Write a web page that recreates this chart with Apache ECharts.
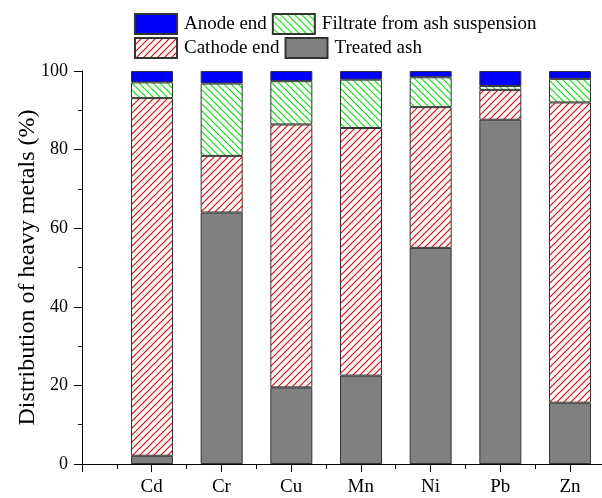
<!DOCTYPE html>
<html>
<head>
<meta charset="utf-8">
<script src="https://cdn.jsdelivr.net/npm/echarts@6/dist/echarts.min.js"></script>
<style>html,body{margin:0;padding:0;background:#fff;}#c{width:602px;height:498px;}</style>
</head>
<body>
<div id="c"></div>
<script>
const categories = ['Cd', 'Cr', 'Cu', 'Mn', 'Ni', 'Pb', 'Zn'];
const treatedAsh = [2.1, 64.0, 19.5, 22.5, 55.0, 87.6, 15.6];
const cathodeEnd = [91.0, 14.4, 66.9, 63.0, 35.8, 7.6, 76.4];
const filtrate   = [4.0, 18.4, 11.0, 12.3, 7.6, 1.0, 6.0];
const anodeEnd   = [2.9, 3.2, 2.6, 2.2, 1.6, 3.8, 2.0];
const yTicks = [0, 20, 40, 60, 80, 100];

function hatch(color, dir) {
  const s = 7;
  const c = document.createElement('canvas');
  c.width = s; c.height = s;
  const g = c.getContext('2d');
  g.fillStyle = '#ffffff';
  g.fillRect(0, 0, s, s);
  g.strokeStyle = color;
  g.lineWidth = 1.2;
  g.beginPath();
  if (dir === '/') {
    g.moveTo(-1, s + 1); g.lineTo(s + 1, -1);
    g.moveTo(-1, 1); g.lineTo(1, -1);
    g.moveTo(s - 1, s + 1); g.lineTo(s + 1, s - 1);
  } else {
    g.moveTo(-1, -1); g.lineTo(s + 1, s + 1);
    g.moveTo(s - 1, -1); g.lineTo(s + 1, 1);
    g.moveTo(-1, s - 1); g.lineTo(1, s + 1);
  }
  g.stroke();
  return c;
}

const font = 'Liberation Serif';
const border = { borderColor: '#333', borderWidth: 1 };
const legendText = { fontFamily: font, fontSize: 19, color: '#000', padding: [0, 0, 0, 2] };

const chart = echarts.init(document.getElementById('c'), null, { renderer: 'canvas' });
chart.setOption({
  animation: false,
  backgroundColor: '#fff',
  textStyle: { fontFamily: font },
  legend: [
    { data: ['Anode end', 'Filtrate from ash suspension'], left: 134, top: 13, padding: 0, icon: 'rect',
      itemWidth: 42, itemHeight: 20, itemGap: 5, textStyle: legendText, selectedMode: false },
    { data: ['Cathode end', 'Treated ash'], left: 134, top: 37, padding: 0, icon: 'rect',
      itemWidth: 42, itemHeight: 20, itemGap: 5, textStyle: legendText, selectedMode: false }
  ],
  grid: [
    { left: 152, right: 32, top: 71, bottom: 34, containLabel: false },
    { left: 82, right: 0, top: 71, bottom: 34, containLabel: false }
  ],
  xAxis: [
    { gridIndex: 0, type: 'category', data: categories, boundaryGap: false, show: false },
    { gridIndex: 1, type: 'value', min: 0, max: 7.46, interval: 1,
      axisLine: { show: true, lineStyle: { color: '#000', width: 1 } },
      axisTick: { show: true, length: 8, inside: false, lineStyle: { color: '#000' } },
      minorTick: { show: true, splitNumber: 2, length: 5, lineStyle: { color: '#000' } },
      splitLine: { show: false },
      axisLabel: { color: '#000', fontSize: 19, fontFamily: font, margin: 14, showMaxLabel: false,
        formatter: v => (v >= 1 && v <= categories.length && Number.isInteger(v)) ? categories[v - 1] : '' } }
  ],
  yAxis: [
    { gridIndex: 0, type: 'value', min: 0, max: 100, show: false },
    { gridIndex: 1, type: 'value', min: 0, max: 100, interval: 20,
      name: 'Distribution of heavy metals (%)', nameLocation: 'middle', nameGap: 42, nameMoveOverlap: false,
      nameTextStyle: { fontFamily: font, fontSize: 24, color: '#000' },
      axisLine: { show: true, lineStyle: { color: '#000', width: 1 } },
      axisTick: { show: true, length: 8, lineStyle: { color: '#000' } },
      minorTick: { show: true, splitNumber: 2, length: 4, lineStyle: { color: '#000' } },
      splitLine: { show: false },
      axisLabel: { color: '#000', fontSize: 18, fontFamily: font, margin: 14,
        formatter: v => yTicks.includes(v) ? String(v) : '' } }
  ],
  series: [
    { name: 'Treated ash', type: 'bar', stack: 'a', barWidth: 42, xAxisIndex: 0, yAxisIndex: 0, data: treatedAsh,
      itemStyle: Object.assign({ color: '#808080' }, border) },
    { name: 'Cathode end', type: 'bar', stack: 'a', barWidth: 42, xAxisIndex: 0, yAxisIndex: 0, data: cathodeEnd,
      itemStyle: Object.assign({ color: { image: hatch('#ff0000', '/'), repeat: 'repeat' } }, border) },
    { name: 'Filtrate from ash suspension', type: 'bar', stack: 'a', barWidth: 42, xAxisIndex: 0, yAxisIndex: 0, data: filtrate,
      itemStyle: Object.assign({ color: { image: hatch('#00ee00', '\\'), repeat: 'repeat' } }, border) },
    { name: 'Anode end', type: 'bar', stack: 'a', barWidth: 42, xAxisIndex: 0, yAxisIndex: 0, data: anodeEnd,
      itemStyle: Object.assign({ color: '#0000ff' }, border) }
  ]
});
</script>
</body>
</html>
